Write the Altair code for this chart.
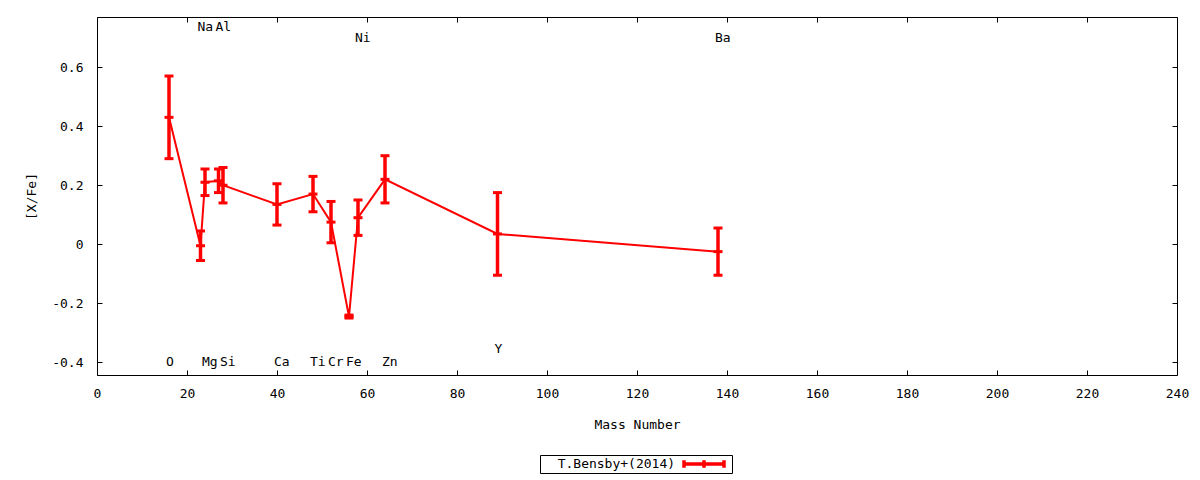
import altair as alt
import pandas as pd

# ---- data ----
elements = ["O", "Na", "Mg", "Al", "Si", "Ca", "Ti", "Cr", "Fe", "Ni", "Zn", "Y", "Ba"]
mass = [16, 23, 24, 27, 28, 40, 48, 52, 56, 58, 64, 89, 138]
xfe = [0.43, -0.005, 0.21, 0.215, 0.20, 0.135, 0.17, 0.075, -0.245, 0.09, 0.22, 0.035, -0.025]
err = [0.14, 0.05, 0.045, 0.04, 0.06, 0.07, 0.06, 0.07, 0.005, 0.06, 0.08, 0.14, 0.08]
label_y = [-0.40, 0.735, -0.40, 0.735, -0.40, -0.40, -0.40, -0.40, -0.40, 0.70, -0.40, -0.355, 0.70]
x_ticks = [0, 20, 40, 60, 80, 100, 120, 140, 160, 180, 200, 220, 240]
y_ticks = [-0.4, -0.2, 0, 0.2, 0.4, 0.6]
series_name = "T.Bensby+(2014)"

FONT = "DejaVu Sans Mono"
RED = "#ff0000"

df = pd.DataFrame({
    "element": elements,
    "mass": mass,
    "xfe": xfe,
    "err": err,
    "label_y": label_y,
})
df["lo"] = df["xfe"] - df["err"]
df["hi"] = df["xfe"] + df["err"]
df["series"] = series_name

xscale = alt.Scale(domain=[0, 240], nice=False, zero=False)
yscale = alt.Scale(domain=[-0.443, 0.77], nice=False, zero=False)

ylabel_expr = ("datum.value == 0 ? '0' : (datum.value < 0 ? '-' : '') + "
               "format(abs(datum.value), '.1f')")

x_bottom = alt.Axis(
    orient="bottom", values=x_ticks, offset=-5, tickSize=5, tickColor="black",
    tickWidth=1, domain=False, grid=False, labelFont=FONT, labelFontSize=13,
    labelColor="black", labelPadding=12, labelFlush=False, labelOverlap=False,
    title="Mass Number", titleFont=FONT, titleFontSize=13, titleFontWeight="normal",
    titleColor="black", titleX=540, titleY=54, titleBaseline="middle", titleAlign="center",
)
y_left = alt.Axis(
    orient="left", values=y_ticks, offset=-5, tickSize=5, tickColor="black",
    tickWidth=1, domain=False, grid=False, labelFont=FONT, labelFontSize=13,
    labelColor="black", labelPadding=14, labelExpr=ylabel_expr, labelFlush=False,
    labelOverlap=False, labelBaseline="middle",
    title="[X/Fe]", titleFont=FONT, titleFontSize=13, titleFontWeight="normal",
    titleColor="black", titleX=-71, titleY=179, titleAngle=270,
    titleBaseline="middle", titleAlign="center",
)
x_top = alt.Axis(orient="top", values=x_ticks, offset=-5, tickSize=5, tickColor="black",
                 tickWidth=1, domain=False, grid=False, labels=False, title=None)
y_right = alt.Axis(orient="right", values=y_ticks, offset=-5, tickSize=5, tickColor="black",
                   tickWidth=1, domain=False, grid=False, labels=False, title=None)

base = alt.Chart(df)

line = base.mark_line(color=RED, strokeWidth=2).encode(
    x=alt.X("mass:Q", scale=xscale, axis=x_bottom),
    y=alt.Y("xfe:Q", scale=yscale, axis=y_left),
)

legend_symbol = "M-1,0H1M-1,-0.19V0.19M0,-0.19V0.19M1,-0.19V0.19"

bars = base.mark_rule(strokeWidth=3.5).encode(
    x=alt.X("mass:Q", scale=xscale, axis=x_top),
    y=alt.Y("lo:Q", scale=yscale, axis=y_right),
    y2="hi:Q",
    color=alt.Color(
        "series:N",
        scale=alt.Scale(range=[RED]),
        legend=alt.Legend(
            orient="none", legendX=443, legendY=438,
            title="\u200b\u00a0\u00a0" + series_name, titleOrient="left",
            titleFont=FONT, titleFontSize=13, titleFontWeight="normal", titleColor="black",
            titlePadding=6, titleBaseline="middle", titleAnchor="middle",
            labelExpr="''", labelOffset=4,
            symbolType=legend_symbol, symbolSize=1600, symbolStrokeWidth=3.5,
            symbolFillColor="transparent",
            clipHeight=14, padding=2, strokeColor="black", fillColor="white",
            cornerRadius=0,
        ),
    ),
)

caps = base.transform_fold(["lo", "hi", "xfe"], as_=["kind", "yv"]).mark_tick(
    orient="horizontal", size=9, thickness=3, color=RED, opacity=1
).encode(
    x=alt.X("mass:Q", scale=xscale, axis=None),
    y=alt.Y("yv:Q", scale=yscale, axis=None),
)

labels = base.mark_text(
    align="left", baseline="middle", dx=-3, font=FONT, fontSize=13, color="black"
).encode(
    x=alt.X("mass:Q", scale=xscale, axis=None),
    y=alt.Y("label_y:Q", scale=yscale, axis=None),
    text="element:N",
)

chart = (
    alt.layer(line, bars, caps, labels)
    .resolve_axis(x="independent", y="independent")
    .properties(
        width=1080, height=358,
        autosize=alt.AutoSizeParams(type="none"),
        padding={"left": 89, "top": 9, "right": 15, "bottom": 99},
        background="white",
    )
    .configure_view(stroke="black", strokeWidth=1)
)

chart.save("out.html", embed_options={"renderer": "svg", "actions": False})
